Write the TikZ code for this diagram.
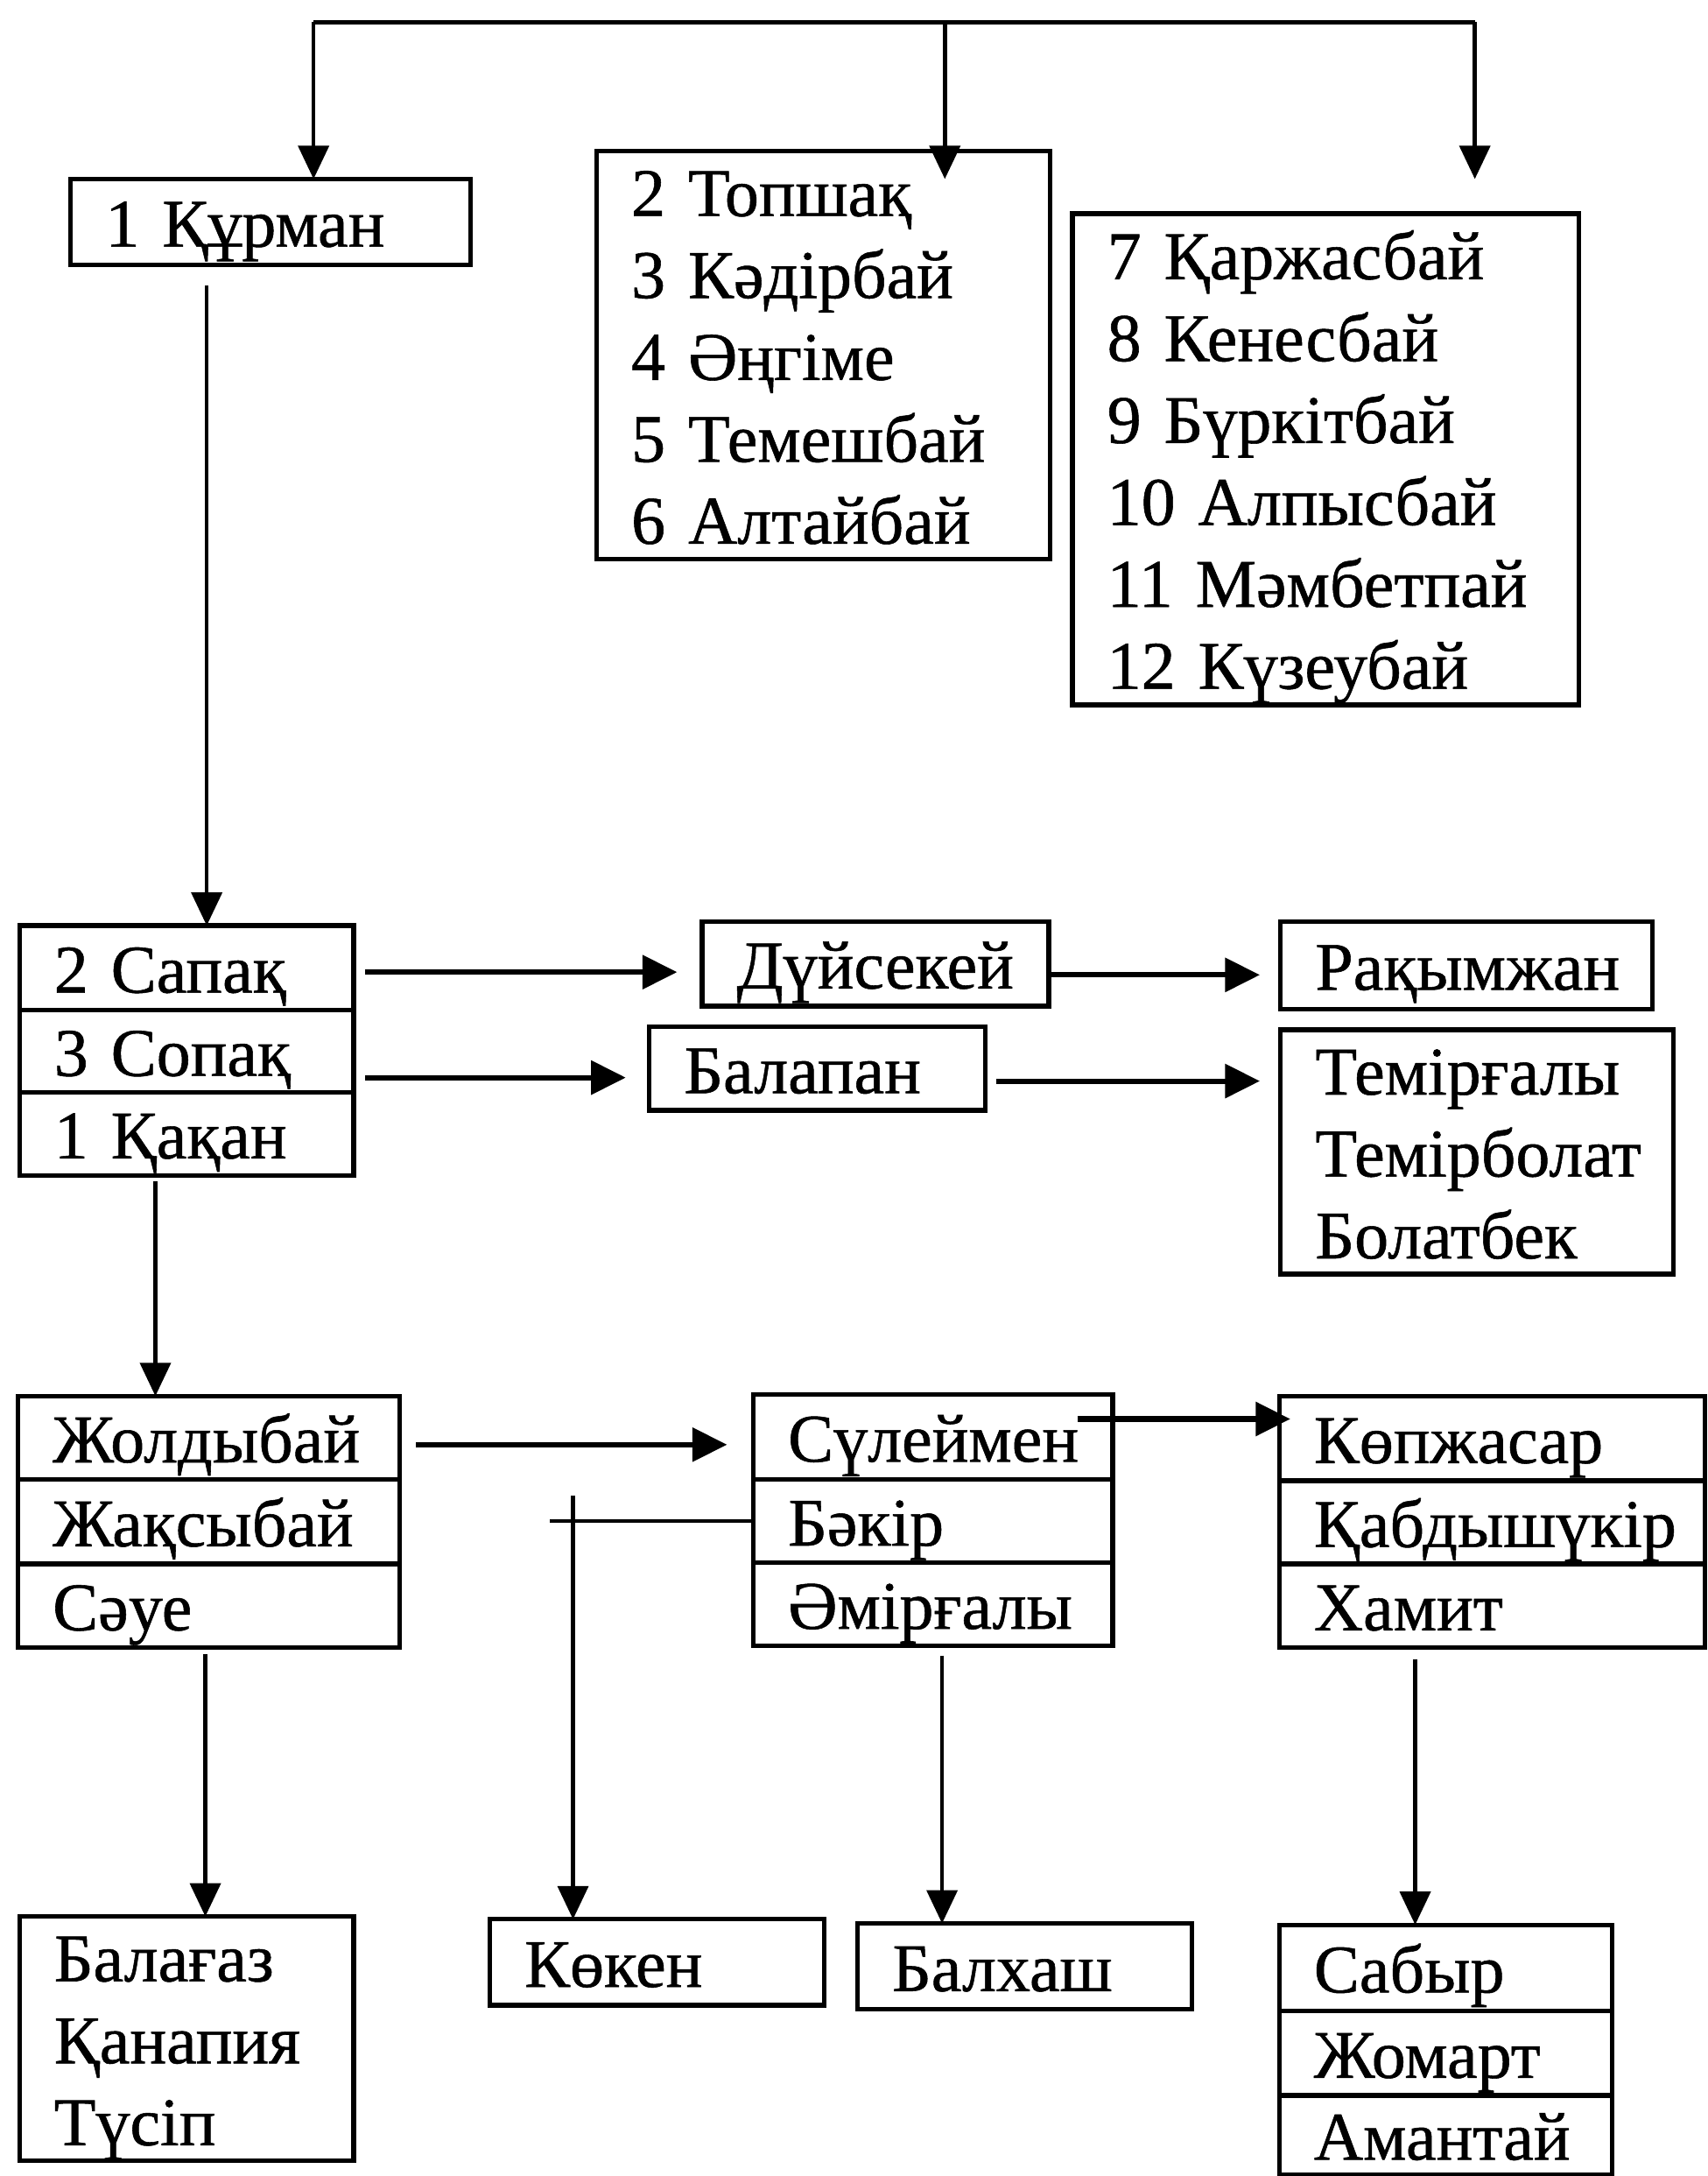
\documentclass[tikz,border=0pt]{standalone}
\usepackage{fontspec}
\setmainfont{Liberation Serif}[FakeBold=0.7]
\usetikzlibrary{arrows.meta,calc}
\tikzset{
  cell/.style={draw, line width=1.9pt, inner xsep=0.5cm, inner ysep=0pt, outer sep=0pt,
    align=left, font=\fontsize{28}{33.6}\selectfont, text height=24pt},
  ln/.style={line width=1.6pt},
  arr/.style={line width=1.6pt, -{Triangle[length=0.48cm,width=0.44cm]}},
  harr/.style={line width=2.2pt, -{Triangle[length=0.5cm,width=0.48cm]}},
}
\newcommand\mkcell[7]{\node[cell, minimum width={(#4-#2)*0.02cm}, minimum height={(#5-#3)*0.02cm},
  text width={(#4-#2-50)*0.02cm}, text depth={(#6-1)*33.6pt+3.8pt}] (#1) at ({(#2+#4)/2},{(#3+#5)/2}) {#7};}
\begin{document}
\begin{tikzpicture}[x=0.02cm,y=-0.02cm]
\fill[white] (0,0) rectangle (1231,1568);
\useasboundingbox (0,0) rectangle (1231,1568);

% boxes
\mkcell{A}{51}{129}{339}{191}{1}{1 Құрман}
\mkcell{B}{430}{109}{757}{403}{5}{2 Топшақ\\3 Кәдірбай\\4 Әңгіме\\5 Темешбай\\6 Алтайбай}
\mkcell{C}{773}{154}{1138}{508}{6}{7 Қаржасбай\\8 Кенесбай\\9 Бүркітбай\\10 Алпысбай\\11 Мәмбетпай\\12 Күзеубай}
\mkcell{D1}{14}{667}{255}{728}{1}{2 Сапақ}
\mkcell{D2}{14}{728}{255}{787}{1}{3 Сопақ}
\mkcell{D3}{14}{787}{255}{847}{1}{1 Қақан}
\mkcell{Duy}{506}{664}{756}{725}{1}{Дүйсекей}
\mkcell{Rak}{923}{664}{1191}{727}{1}{Рақымжан}
\mkcell{Bal}{468}{740}{710}{800}{1}{Балапан}
\mkcell{Tem}{923}{742}{1206}{918}{3}{Темірғалы\\Темірболат\\Болатбек}
\mkcell{E1}{13}{1006}{288}{1066}{1}{Жолдыбай}
\mkcell{E2}{13}{1066}{288}{1127}{1}{Жақсыбай}
\mkcell{E3}{13}{1127}{288}{1187}{1}{Сәуе}
\mkcell{F1}{543}{1005}{802}{1066}{1}{Сүлеймен}
\mkcell{F2}{543}{1066}{802}{1126}{1}{Бәкір}
\mkcell{F3}{543}{1126}{802}{1186}{1}{Әмірғалы}
\mkcell{G1}{922}{1006}{1229}{1067}{1}{Көпжасар}
\mkcell{G2}{922}{1067}{1229}{1127}{1}{Қабдышүкір}
\mkcell{G3}{922}{1127}{1229}{1187}{1}{Хамит}
\mkcell{Kok}{353}{1383}{594}{1445}{1}{Көкен}
\mkcell{Balh}{618}{1386}{859}{1448}{1}{Балхаш}
\mkcell{H1}{922}{1387}{1162}{1449}{1}{Сабыр}
\mkcell{H2}{922}{1449}{1162}{1510}{1}{Жомарт}
\mkcell{H3}{922}{1510}{1162}{1567}{1}{Амантай}
\mkcell{I}{14}{1381}{255}{1557}{3}{Балағаз\\Қанапия\\Түсіп}

% top bracket
\coordinate (tL) at (226,16);
\coordinate (tM) at (681,16);
\coordinate (tR) at (1063,16);
\draw[ln] (tL) -- (tR);
\draw[arr] (tL) -- (tL |- A.north);
\draw[arr] (tM) -- ($(tM |- B.north)+(0,20)$);
\draw[arr] (tR) -- ($(tR |- C.north)+(0,-25)$);

% vertical x positions
\coordinate (xa) at (149,0);
\coordinate (xd) at (112,0);
\coordinate (xe) at (148,0);
\coordinate (xf) at (679,0);
\coordinate (xg) at (1020,0);
\coordinate (kx) at (413,1078);

\draw[arr] ($(A.south -| xa)+(0,15)$) -- (D1.north -| xa);
\draw[harr] ($(D1.east)+(8,3)$) -- ($(D1.east -| Duy.west)+(-18,3)$);
\draw[harr] ($(Duy.east)+(2,8)$) -- ($(Duy.east -| Rak.west)+(-15,8)$);
\draw[harr] ($(D2.east)+(8,19)$) -- ($(D2.east -| Bal.west)+(-17,19)$);
\draw[harr] ($(Bal.east)+(8,9)$) -- ($(Bal.east -| Tem.west)+(-15,9)$);
\draw[arr] ($(D3.south -| xd)+(0,4)$) -- (E1.north -| xd);
\draw[harr] ($(E1.east)+(12,5)$) -- ($(E1.east -| F1.west)+(-19,5)$);
\draw[harr] ($(F1.east)+(-25,-13)$) -- ($(F1.east -| G1.west)+(8,-13)$);
\draw[ln] (F2.west) -- ($(F2.west)+(-147,0)$);
\draw[arr] (kx) -- (kx |- Kok.north);
\draw[arr] ($(F3.south -| xf)+(0,7)$) -- (Balh.north -| xf);
\draw[arr] ($(G3.south -| xg)+(0,9)$) -- (H1.north -| xg);
\draw[arr] ($(E3.south -| xe)+(0,5)$) -- (I.north -| xe);
\end{tikzpicture}
\end{document}
